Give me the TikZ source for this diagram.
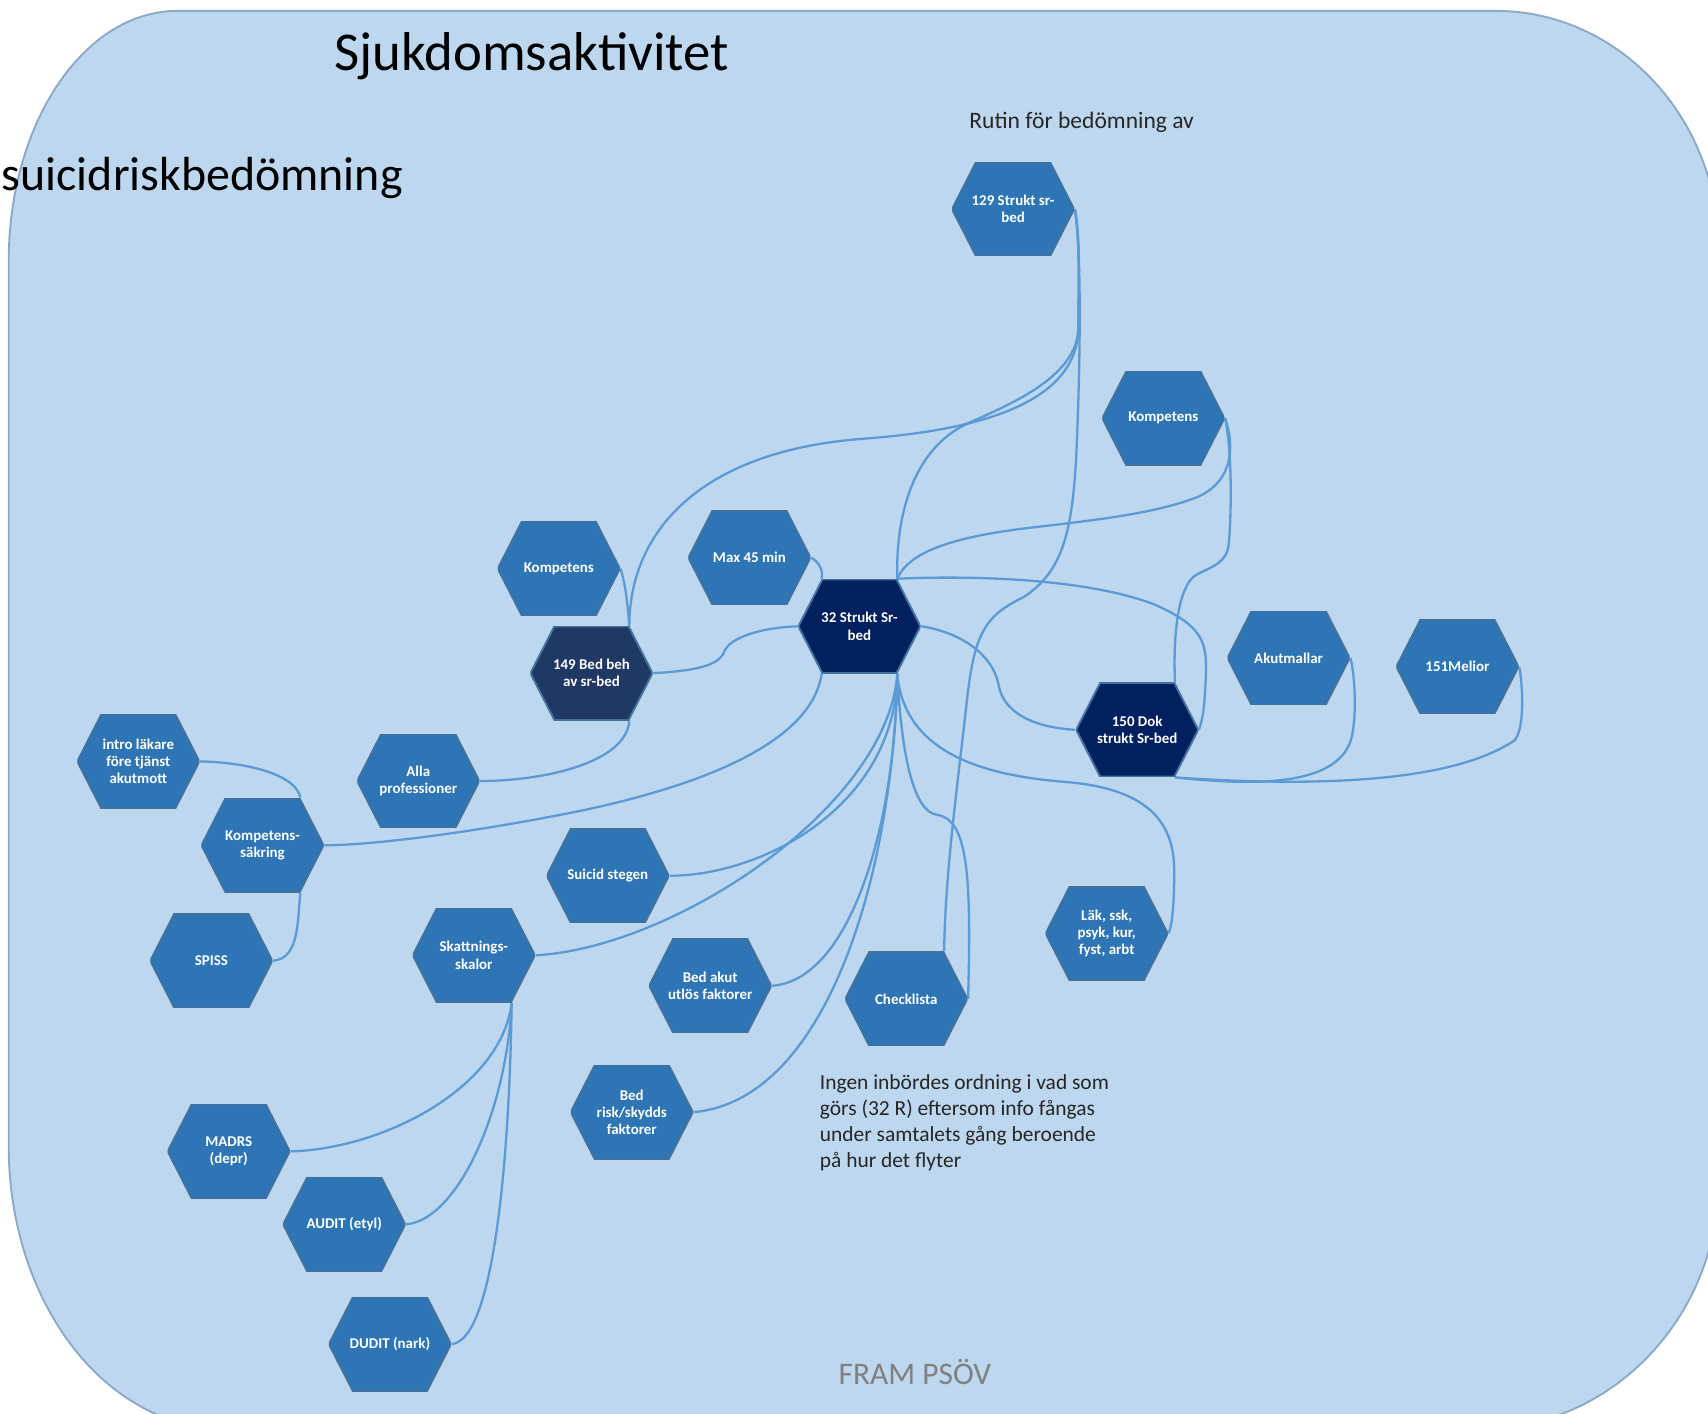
\documentclass[tikz,border=0pt]{standalone}
\usepackage{fontspec}
\setmainfont{Carlito}
\pgfdeclarelayer{back}
\pgfdeclarelayer{mid}
\pgfsetlayers{back,mid,main}

\definecolor{panelfill}{RGB}{189,215,238}
\definecolor{paneledge}{RGB}{140,170,200}
\definecolor{linkblue}{RGB}{91,155,213}
\definecolor{hexmid}{RGB}{46,117,182}
\definecolor{hexnavy}{RGB}{0,32,96}
\definecolor{hexslate}{RGB}{32,56,100}
\definecolor{hexedge}{RGB}{65,113,156}
\definecolor{footgray}{RGB}{128,128,128}

\newcommand\hexfont{\bfseries\fontsize{3.9}{4.5}\selectfont}
% named corner points of a hexagon node
\newcommand\hexcorners[1]{%
  \coordinate (#1-tr) at ([xshift=-0.22cm]#1.north east);
  \coordinate (#1-tl) at ([xshift=0.22cm]#1.north west);
  \coordinate (#1-br) at ([xshift=-0.22cm]#1.south east);
  \coordinate (#1-bl) at ([xshift=0.22cm]#1.south west);}

\tikzset{
  hexa/.style={minimum width=1.12cm, minimum height=0.86cm, inner sep=0pt,
    align=center, text=white, font=\hexfont,
    path picture={\filldraw[fill=#1, draw=hexedge, line width=0.5pt]
      ([xshift=0.22cm]path picture bounding box.north west) --
      ([xshift=-0.22cm]path picture bounding box.north east) --
      (path picture bounding box.east) --
      ([xshift=-0.22cm]path picture bounding box.south east) --
      ([xshift=0.22cm]path picture bounding box.south west) --
      (path picture bounding box.west) -- cycle;}},
  hexa/.default=hexmid,
  link/.style={draw=linkblue, line width=0.6pt},
}

\begin{document}
\begin{tikzpicture}[x=0.01cm, y=-0.01cm]
\useasboundingbox (0,0) rectangle (1568,1298);

% rounded panel
\begin{pgfonlayer}{back}
\begin{scope}
\clip (0,0) rectangle (1568,1298);
\filldraw[fill=panelfill, draw=paneledge, line width=0.5pt]
  (8,240) .. controls (8,113) and (77,10) .. (163,10)
  -- (1373,10) .. controls (1486,10) and (1578,108) .. (1578,230)
  -- (1578,1082) .. controls (1578,1209) and (1480,1312) .. (1358,1312)
  -- (208,1312) .. controls (97,1312) and (8,1196) .. (8,1052) -- cycle;
\end{scope}
\end{pgfonlayer}

% headings and notes
\node[font=\fontsize{14.3}{17}\selectfont] (title) at (488,52) {Sjukdomsaktivitet};
\node[font=\fontsize{12.5}{15}\selectfont, anchor=west, inner sep=0pt] (subtitle) at (1,163) {suicidriskbedömning};
\node[font=\fontsize{6.15}{7.4}\selectfont, text=black!85] (rutin) at (993,112) {Rutin för bedömning av};
\node[font=\fontsize{5.6}{6.75}\selectfont, text=black!85, align=left, anchor=west, inner sep=0pt] (note) at (752,1031)
  {Ingen inbördes ordning i vad som\\görs (32 R) eftersom info fångas\\under samtalets gång beroende\\på hur det flyter};
\node[font=\fontsize{8.2}{10}\selectfont, text=footgray] (foot) at (840,1260) {FRAM PSÖV};

% hexagons
\node[hexa] (n129) at (930,192) {129 Strukt sr-\\bed};
\node[hexa] (kompR) at (1068,384) {Kompetens};
\node[hexa] (kompL) at (513,522) {Kompetens};
\node[hexa] (max45) at (688,512) {Max 45 min};
\node[hexa=hexnavy] (n32) at (789,575) {32 Strukt Sr-\\bed};
\node[hexa=hexslate] (n149) at (543,618) {149 Bed beh\\av sr-bed};
\node[hexa] (alla) at (384,717) {Alla\\professioner};
\node[hexa] (intro) at (127,699) {intro läkare\\före tjänst\\akutmott};
\node[hexa] (ksak) at (241,776) {Kompetens-\\säkring};
\node[hexa] (spiss) at (194,882) {SPISS};
\node[hexa] (suicid) at (558,804) {Suicid stegen};
\node[hexa] (skatt) at (435,877) {Skattnings-\\skalor};
\node[hexa] (bedakut) at (652,905) {Bed akut\\utlös faktorer};
\node[hexa] (check) at (832,917) {Checklista};
\node[hexa] (lak) at (1016,857) {Läk, ssk,\\psyk, kur,\\fyst, arbt};
\node[hexa=hexnavy] (n150) at (1044,670) {150 Dok\\strukt Sr-bed};
\node[hexa] (akut) at (1183,604) {Akutmallar};
\node[hexa] (melior) at (1338,612) {151Melior};
\node[hexa] (bedrisk) at (580,1021) {Bed\\risk/skydds\\faktorer};
\node[hexa] (madrs) at (210,1057) {MADRS\\(depr)};
\node[hexa] (audit) at (316,1124) {AUDIT (etyl)};
\node[hexa] (dudit) at (358,1234) {DUDIT (nark)};

\hexcorners{n129}\hexcorners{kompL}\hexcorners{n32}\hexcorners{n149}
\hexcorners{ksak}\hexcorners{skatt}\hexcorners{check}\hexcorners{n150}

% connectors
\begin{pgfonlayer}{mid}
\path[link] (kompL.east) .. controls (575,540) and (576,555) .. (n149-tr);
\path[link] (n129.east) .. controls (992,220) and (990,270) .. (990,300)
  .. controls (990,370) and (900,395) .. (790,403)
  .. controls (640,415) and (578,490) .. (n149-tr);
\path[link] (n129.east) .. controls (992,220) and (990,270) .. (990,300)
  .. controls (990,345) and (930,370) .. (890,388)
  .. controls (840,410) and (822,470) .. (n32-tr);
\path[link] (n129.east) .. controls (993,230) and (992,330) .. (988,420)
  .. controls (984,490) and (975,525) .. (940,548)
  .. controls (905,565) and (895,580) .. (888,640)
  .. controls (878,730) and (868,800) .. (check-tr);
\path[link] (kompR.east) .. controls (1132,405) and (1135,440) .. (1100,456)
  .. controls (1060,472) and (1000,478) .. (950,484)
  .. controls (880,492) and (835,505) .. (n32-tr);
\path[link] (kompR.east) .. controls (1132,420) and (1130,480) .. (1128,500)
  .. controls (1126,520) and (1105,522) .. (1095,530)
  .. controls (1080,545) and (1077,590) .. (n150-tr);
\path[link] (n32-tr) .. controls (900,528) and (1000,532) .. (1060,555)
  .. controls (1105,575) and (1108,590) .. (1107,620)
  .. controls (1106,650) and (1104,660) .. (n150.east);
\path[link] (n32.east) .. controls (880,580) and (912,600) .. (917,630)
  .. controls (922,655) and (950,668) .. (n150.west);
\path[link] (max45.east) .. controls (752,516) and (756,524) .. (n32-tl);
\path[link] (n149.east) .. controls (635,616) and (660,612) .. (665,598)
  .. controls (670,585) and (700,576) .. (n32.west);
\path[link] (n149-br) .. controls (575,700) and (500,717) .. (alla.east);
\path[link] (n32-bl) .. controls (745,680) and (650,720) .. (530,745)
  .. controls (430,765) and (340,776) .. (ksak.east);
\path[link] (intro.east) .. controls (230,700) and (272,712) .. (ksak-tr);
\path[link] (ksak-br) .. controls (273,845) and (275,880) .. (spiss.east);
\path[link] (skatt-br) .. controls (460,1000) and (350,1055) .. (madrs.east);
\path[link] (skatt-br) .. controls (465,1020) and (420,1120) .. (audit.east);
\path[link] (skatt-br) .. controls (468,1050) and (455,1230) .. (dudit.east);
\path[link] (n32-br) .. controls (822,740) and (700,804) .. (suicid.east);
\path[link] (n32-br) .. controls (815,740) and (620,870) .. (skatt.east);
\path[link] (n32-br) .. controls (822,760) and (780,900) .. (bedakut.east);
\path[link] (n32-br) .. controls (820,800) and (760,1010) .. (bedrisk.east);
\path[link] (n32-br) .. controls (828,700) and (840,745) .. (860,748)
  .. controls (888,752) and (892,800) .. (check.east);
\path[link] (n32-br) .. controls (830,690) and (900,712) .. (980,718)
  .. controls (1060,725) and (1078,760) .. (1078,800)
  .. controls (1078,830) and (1076,850) .. (lak.east);
\path[link] (n150-br) .. controls (1140,720) and (1225,725) .. (1240,680)
  .. controls (1246,660) and (1244,620) .. (akut.east);
\path[link] (n150-br) .. controls (1200,722) and (1330,720) .. (1390,680)
  .. controls (1400,670) and (1398,630) .. (melior.east);
\end{pgfonlayer}
\end{tikzpicture}
\end{document}
